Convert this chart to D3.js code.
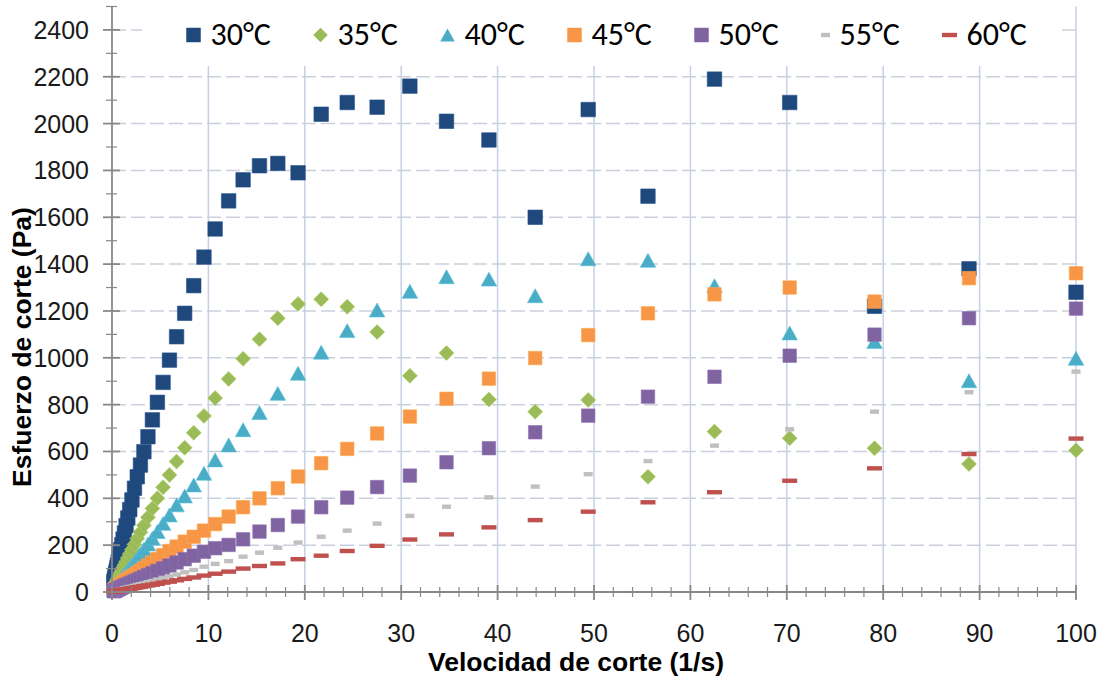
<!DOCTYPE html>
<html>
<head>
<meta charset="utf-8">
<script src="https://cdn.jsdelivr.net/npm/d3@7"></script>
<style>
  body { margin: 0; background: #ffffff; }
  svg { display: block; }
</style>
</head>
<body>
<svg id="chart" width="1106" height="683"></svg>
<script>
// Shear rate (1/s), logarithmically spaced measurement points
const shearRate = [
  0.20, 0.22, 0.25, 0.28, 0.32, 0.36, 0.40, 0.45, 0.51, 0.57,
  0.64, 0.72, 0.81, 0.91, 1.02, 1.15, 1.29, 1.46, 1.64, 1.84,
  2.07, 2.33, 2.62, 2.95, 3.31, 3.73, 4.19, 4.71, 5.30, 5.96,
  6.70, 7.54, 8.48, 9.54, 10.7, 12.1, 13.6, 15.3, 17.2, 19.3,
  21.7, 24.4, 27.5, 30.9, 34.7, 39.1, 43.9, 49.4, 55.6, 62.5,
  70.3, 79.1, 88.9, 100
];

// Shear stress (Pa) at each temperature
const stress30 = [
  42, 46, 52, 58, 66, 74, 82, 92, 103, 115,
  129, 145, 162, 181, 202, 226, 252, 283, 316, 352,
  393, 443, 492, 542, 599, 663, 735, 810, 895, 990,
  1090, 1190, 1308, 1430, 1550, 1670, 1760, 1820, 1830, 1790,
  2040, 2090, 2070, 2160, 2010, 1930, 1600, 2060, 1690, 2190,
  2090, 1220, 1380, 1280
];
const stress35 = [
  18, 20, 23, 26, 29, 33, 37, 41, 46, 52,
  58, 65, 73, 82, 92, 103, 115, 129, 145, 162,
  181, 203, 228, 255, 285, 319, 357, 400, 447, 500,
  557, 616, 680, 752, 828, 910, 996, 1079, 1169, 1230,
  1250, 1218, 1110, 923, 1020, 822, 770, 820, 492, 685,
  657, 614, 547, 605
];
const stress40 = [
  12, 13, 14, 16, 18, 21, 23, 26, 29, 33,
  37, 41, 46, 52, 58, 65, 73, 82, 92, 103,
  115, 129, 145, 163, 183, 205, 230, 258, 293, 329,
  372, 410, 457, 507, 564, 628, 693, 766, 848, 934,
  1024, 1116, 1204, 1284, 1346, 1336, 1265, 1423, 1416, 1308,
  1106, 1070, 902, 998
];
const stress45 = [
  7, 8, 9, 10, 11, 12, 14, 15, 17, 19,
  21, 24, 27, 30, 33, 37, 42, 47, 52, 58,
  65, 72, 81, 90, 101, 113, 126, 141, 157, 175,
  194, 215, 236, 262, 290, 322, 362, 400, 443, 493,
  550, 611, 677, 749, 825, 911, 999, 1097, 1190, 1271,
  1300, 1240, 1340, 1361
];
const stress50 = [
  4, 4, 5, 6, 6, 7, 8, 9, 10, 12,
  13, 14, 16, 18, 20, 23, 26, 29, 32, 36,
  40, 45, 51, 57, 64, 72, 80, 90, 101, 113,
  126, 140, 155, 172, 187, 201, 225, 258, 286, 322,
  362, 403, 448, 497, 554, 614, 682, 753, 834, 919,
  1009, 1099, 1169, 1210
];
const stress55 = [
  2, 3, 3, 3, 4, 4, 5, 5, 6, 7,
  7, 8, 9, 10, 12, 13, 15, 17, 19, 21,
  23, 26, 30, 33, 37, 42, 47, 53, 60, 67,
  75, 84, 94, 108, 120, 132, 151, 168, 189, 211,
  236, 262, 292, 325, 364, 404, 450, 503, 559, 625,
  695, 770, 853, 941
];
const stress60 = [
  1, 2, 2, 2, 2, 3, 3, 3, 4, 4,
  5, 5, 6, 7, 8, 9, 10, 11, 12, 14,
  16, 18, 20, 22, 25, 28, 31, 35, 40, 44,
  50, 56, 62, 70, 78, 87, 100, 111, 122, 140,
  155, 175, 197, 224, 246, 276, 307, 343, 383, 426,
  475, 528, 589, 655
];

const seriesLabels = ["30°C", "35°C", "40°C", "45°C", "50°C", "55°C", "60°C"];
const xTickValues = [0, 10, 20, 30, 40, 50, 60, 70, 80, 90, 100];
const yTickValues = [0, 200, 400, 600, 800, 1000, 1200, 1400, 1600, 1800, 2000, 2200, 2400];
const xTitle = "Velocidad de corte (1/s)";
const yTitle = "Esfuerzo de corte (Pa)";

// ---- styling ----
const seriesStyle = [
  { color: "#1f497d", shape: "square", size: 14.5 },
  { color: "#9bbb59", shape: "diamond", size: 15 },
  { color: "#4bacc6", shape: "triangle", size: 15.5 },
  { color: "#f79646", shape: "square", size: 13.5 },
  { color: "#8064a2", shape: "square", size: 13.5 },
  { color: "#c0c0c0", shape: "dash", size: 9 },
  { color: "#c0504d", shape: "dash", size: 15 }
];
const seriesValues = [stress30, stress35, stress40, stress45, stress50, stress55, stress60];

const svg = d3.select("#chart");
const x = d3.scaleLinear().domain([0, 100]).range([112, 1076]);
const y = d3.scaleLinear().domain([0, 2500]).range([592, 6.5]);

const axisColor = "#888888";
const gridColor = "#c6d0e4";

// ---- gridlines ----
svg.append("g")
  .selectAll("line")
  .data(yTickValues.filter(d => d > 0))
  .join("line")
  .attr("x1", x(0)).attr("x2", x(100))
  .attr("y1", d => y(d)).attr("y2", d => y(d))
  .attr("stroke", "#c9cfdc").attr("stroke-width", 1.5)
  .attr("stroke-dasharray", "14,5");

svg.append("g")
  .selectAll("line")
  .data(xTickValues.filter(d => d > 0))
  .join("line")
  .attr("x1", d => x(d)).attr("x2", d => x(d))
  .attr("y1", y(0)).attr("y2", y(2500))
  .attr("stroke", gridColor).attr("stroke-width", 1.5);

// ---- marker shapes ----
function markerPath(shape, s) {
  const h = s / 2;
  if (shape === "diamond") return `M0,${-h}L${h},0L0,${h}L${-h},0Z`;
  if (shape === "triangle") return `M0,${-h * 0.9}L${h},${h * 0.9}L${-h},${h * 0.9}Z`;
  if (shape === "dash") return `M${-h},-2.2H${h}V2.2H${-h}Z`;
  return `M${-h},${-h}H${h}V${h}H${-h}Z`;
}

// ---- series (drawn 30°C first, 60°C on top) ----
seriesValues.forEach((vals, i) => {
  const st = seriesStyle[i];
  const pts = shearRate.map((sr, j) => ({ sr, v: vals[j] }));
  svg.append("g")
    .attr("class", "series")
    .selectAll("path")
    .data(pts)
    .join("path")
    .attr("d", markerPath(st.shape, st.size))
    .attr("transform", d => `translate(${x(d.sr)},${y(d.v)})`)
    .attr("fill", st.color)
    .attr("stroke", st.shape === "dash" ? "none" : d3.color(st.color).brighter(0.3))
    .attr("stroke-width", 0.6);
});

// ---- axes ----
const axes = svg.append("g").attr("stroke", axisColor);
// x axis line and crossing ticks
axes.append("line")
  .attr("x1", x(0)).attr("x2", x(100))
  .attr("y1", y(0)).attr("y2", y(0))
  .attr("stroke-width", 1.8);
axes.append("g").selectAll("line")
  .data(d3.range(0, 101, 2))
  .join("line")
  .attr("x1", d => x(d)).attr("x2", d => x(d))
  .attr("y1", d => y(0) + (d % 10 === 0 ? 8 : 5))
  .attr("y2", d => y(0) - (d % 10 === 0 ? 7 : 5))
  .attr("stroke-width", d => d % 10 === 0 ? 1.8 : 1.2);
// y axis line and crossing ticks
axes.append("line")
  .attr("x1", x(0)).attr("x2", x(0))
  .attr("y1", y(0)).attr("y2", y(2500))
  .attr("stroke-width", 1.8);
axes.append("g").selectAll("line")
  .data(d3.range(0, 2501, 100))
  .join("line")
  .attr("y1", d => y(d)).attr("y2", d => y(d))
  .attr("x1", d => x(0) - (d % 200 === 0 ? 9 : 6))
  .attr("x2", d => x(0) + (d % 200 === 0 ? 8 : 5))
  .attr("stroke-width", d => d % 200 === 0 ? 1.8 : 1.2);

// tick labels
const tickFont = "'Liberation Sans', Arial, sans-serif";
svg.append("g").selectAll("text")
  .data(xTickValues)
  .join("text")
  .attr("x", d => x(d)).attr("y", 642)
  .attr("text-anchor", "middle")
  .attr("font-family", tickFont).attr("font-size", 25).attr("fill", "#1a1a1a")
  .text(d => d);
svg.append("g").selectAll("text")
  .data(yTickValues)
  .join("text")
  .attr("x", 89).attr("y", d => y(d) + 9)
  .attr("text-anchor", "end")
  .attr("font-family", tickFont).attr("font-size", 25).attr("fill", "#1a1a1a")
  .text(d => d);

// axis titles
svg.append("text")
  .attr("x", 576).attr("y", 671)
  .attr("text-anchor", "middle")
  .attr("font-family", tickFont).attr("font-size", 26.5).attr("font-weight", "bold")
  .attr("fill", "#000")
  .text(xTitle);
svg.append("text")
  .attr("transform", "translate(31,347) rotate(-90)")
  .attr("text-anchor", "middle")
  .attr("font-family", tickFont).attr("font-size", 26.5).attr("font-weight", "bold")
  .attr("fill", "#000")
  .text(yTitle);

// ---- legend ----
const legend = svg.append("g");
legend.append("rect")
  .attr("x", 142).attr("y", 0).attr("width", 920).attr("height", 66)
  .attr("fill", "#ffffff");
let cursor = 186;
seriesLabels.forEach((label, i) => {
  const st = seriesStyle[i];
  const w = st.shape === "dash" ? st.size : 15;
  const item = legend.append("g");
  item.append("path")
    .attr("d", markerPath(st.shape, st.shape === "dash" ? st.size : 14.5))
    .attr("transform", `translate(${cursor + w / 2},35)`)
    .attr("fill", st.color);
  item.append("text")
    .attr("x", cursor + w + 9.5).attr("y", 44.5)
    .attr("font-family", "Carlito, Lato, sans-serif").attr("font-size", 32)
    .attr("fill", "#000")
    .text(label);
  cursor += w + 9.5 + 60 + 42.5;
});
</script>
</body>
</html>
